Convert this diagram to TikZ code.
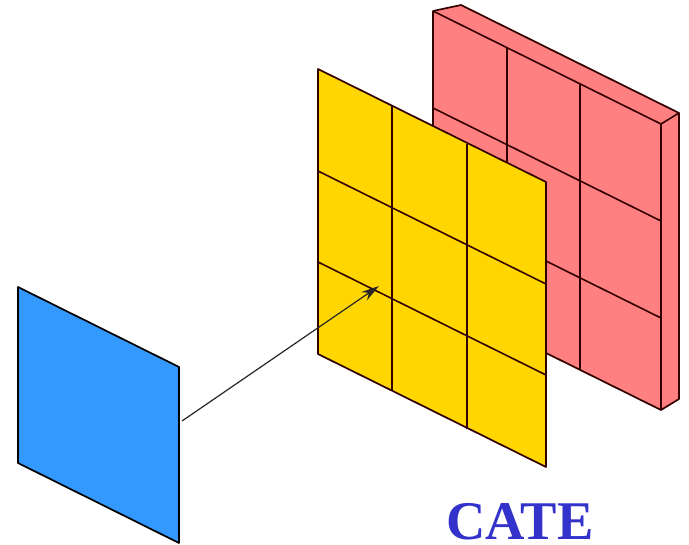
\documentclass[tikz,border=0pt]{standalone}
\usepackage{xcolor}
\usepackage{fontspec}
\setmainfont{Liberation Serif}
\usetikzlibrary{positioning,arrows.meta}
\definecolor{myred}{RGB}{255,128,128}
\definecolor{myyellow}{RGB}{255,214,0}
\definecolor{myblue}{RGB}{51,153,255}
\definecolor{mytitle}{RGB}{51,51,204}

\begin{document}
\begin{tikzpicture}[x=1pt,y=-1pt,
        panel/.style={draw=black!80!red, line width=1.7pt, line join=round},
        grid/.style={draw=black!80!red, line width=1.6pt},
        title/.style={font=\fontsize{54.5}{56}\selectfont\bfseries, text=mytitle, inner sep=0pt}
      ]
        \useasboundingbox (0,0) rectangle (689,545);
        \fill[white] (0,0) rectangle (689,545);
        % red slab
        \draw[panel, fill=myred] (433,11) -- (461,5) -- (679,113) -- (679,399) -- (661,410) -- (433,297) -- cycle;
        \draw[grid] (433,11) -- (661,124) -- (679,113);
        \draw[grid] (661,124) -- (661,410);
        \draw[grid] (507,48) -- (507,334);
        \draw[grid] (580,84) -- (580,370);
        \draw[grid] (433,108) -- (661,221);
        \draw[grid] (433,205) -- (661,318);
        % yellow panel
        \draw[panel, fill=myyellow] (318,69) -- (546,182) -- (546,467) -- (318,354) -- cycle;
        \draw[grid] (392,106) -- (392,391);
        \draw[grid] (467,144) -- (467,429);
        \draw[grid] (318,171) -- (546,284);
        \draw[grid] (318,262) -- (546,375);
        % blue panel
        \draw[panel, draw=black, fill=myblue] (18,287) -- (179,367) -- (179,543) -- (18,463) -- cycle;
        \coordinate (src) at (182,421);
        \coordinate (dst) at (379,286);
        \draw[-{Stealth[length=18pt,width=10pt]},black!85,line width=1.2pt] (src) -- (dst);
        \node[title, anchor=base] (cate) at (520,539.5) {CATE};
      \end{tikzpicture}
\end{document}
